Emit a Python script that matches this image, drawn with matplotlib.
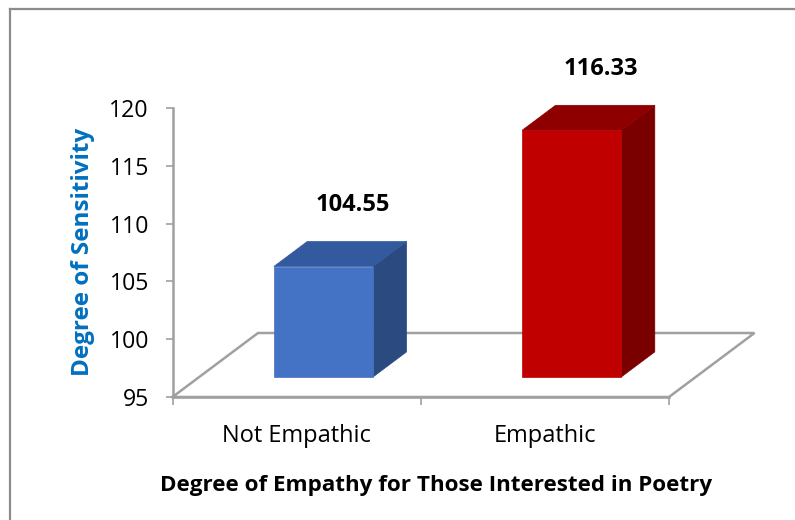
import matplotlib
matplotlib.use("Agg")
import matplotlib.pyplot as plt
from matplotlib.patches import Polygon
from matplotlib.lines import Line2D

# Data
categories = ["Not Empathic", "Empathic"]
values = [104.55, 116.33]
y_ticks = [95, 100, 105, 110, 115, 120]
x_label = "Degree of Empathy for Those Interested in Poetry"
y_label = "Degree of Sensitivity"

# Styling
front_colors = ["#4472C4", "#C00000"]
top_colors = ["#335A9E", "#8E0000"]
side_colors = ["#2A4A80", "#7A0000"]
grey = "#A0A0A0"
FONT = ["Open Sans", "DejaVu Sans"]

W, H, DPI = 795, 520, 100
fig = plt.figure(figsize=(W / DPI, H / DPI), dpi=DPI)
fig.patch.set_facecolor("white")

# plot area (front plane of the floor) in pixels
left_px, right_px, bottom_px, top_px = 172.5, 669, 397, 108
ax = fig.add_axes([left_px / W, 1 - bottom_px / H,
                   (right_px - left_px) / W, (bottom_px - top_px) / H])
ymin, ymax = y_ticks[0], y_ticks[-1]
ax.set_xlim(0, len(categories))
ax.set_ylim(ymin, ymax)
ax.set_facecolor("none")

# pixels per data unit, used to express the 3-D depth in data units
ppu_x = (right_px - left_px) / len(categories)
ppu_y = (bottom_px - top_px) / (ymax - ymin)
depth_px = (85.5, 64.0)


def depth(frac):
    return frac * depth_px[0] / ppu_x, frac * depth_px[1] / ppu_y


# floor outline
fdx, fdy = depth(1.0)
n = len(categories)
floor = [(0, ymin), (n, ymin), (n + fdx, ymin + fdy), (fdx, ymin + fdy), (0, ymin)]
ax.add_line(Line2D([p[0] for p in floor], [p[1] for p in floor], color=grey,
                   lw=1.8, clip_on=False, zorder=1, solid_joinstyle="miter"))

# 3-D bars
bar_w = 0.4
f0x, f0y = depth(0.314)
b1x, b1y = depth(0.705)
for i, (v, fc, tc, sc) in enumerate(zip(values, front_colors, top_colors, side_colors)):
    c = i + 0.5
    xl, xr = c - bar_w / 2 + f0x, c + bar_w / 2 + f0x
    yb, yt = ymin + f0y, v + f0y
    ddx, ddy = b1x - f0x, b1y - f0y
    front = [(xl, yb), (xr, yb), (xr, yt), (xl, yt)]
    top = [(xl, yt), (xr, yt), (xr + ddx, yt + ddy), (xl + ddx, yt + ddy)]
    side = [(xr, yb), (xr + ddx, yb + ddy), (xr + ddx, yt + ddy), (xr, yt)]
    for poly, col in ((side, sc), (top, tc), (front, fc)):
        ax.add_patch(Polygon(poly, closed=True, facecolor=col, edgecolor=col,
                             lw=0.5, clip_on=False, zorder=3))
    ax.annotate(f"{v:.2f}", xy=(c + b1x, v + b1y), xytext=(-3, 26),
                textcoords="offset points", ha="center", va="center",
                fontsize=17, fontweight="bold", family=FONT, color="black",
                annotation_clip=False)

# axes styling
for s in ("top", "right"):
    ax.spines[s].set_visible(False)
for s in ("left", "bottom"):
    ax.spines[s].set_color(grey)
    ax.spines[s].set_linewidth(1.8)
    ax.spines[s].set_zorder(2)

ax.set_yticks(y_ticks)
ax.set_yticklabels([str(t) for t in y_ticks], family=FONT, fontsize=16.7)
ax.tick_params(axis="y", length=5, width=1.2, color=grey, pad=12)

ax.set_xticks(range(n + 1))
ax.set_xticklabels([""] * (n + 1))
ax.tick_params(axis="x", length=6, width=1.2, color=grey)
for i, name in enumerate(categories):
    ax.text(i + 0.5, -0.135, name, transform=ax.get_xaxis_transform(),
            ha="center", va="center", fontsize=17, family=FONT)

fig.text(436 / W, 1 - 485 / H, x_label, ha="center", va="center",
         fontsize=16.1, fontweight="bold", family=FONT)
fig.text(83 / W, 1 - 252 / H, y_label, ha="center", va="center",
         rotation=90, fontsize=17.5, fontweight="bold", family=FONT,
         color="#0070C0")

# chart border (top and left edges)
fig.add_artist(Line2D([9.5 / W, 1], [1 - 8.5 / H, 1 - 8.5 / H],
                      transform=fig.transFigure, color="#8C8C8C", lw=1.6))
fig.add_artist(Line2D([9.5 / W, 9.5 / W], [0, 1 - 8.5 / H],
                      transform=fig.transFigure, color="#8C8C8C", lw=1.6))

fig.savefig("out.png", dpi=DPI, facecolor="white")
